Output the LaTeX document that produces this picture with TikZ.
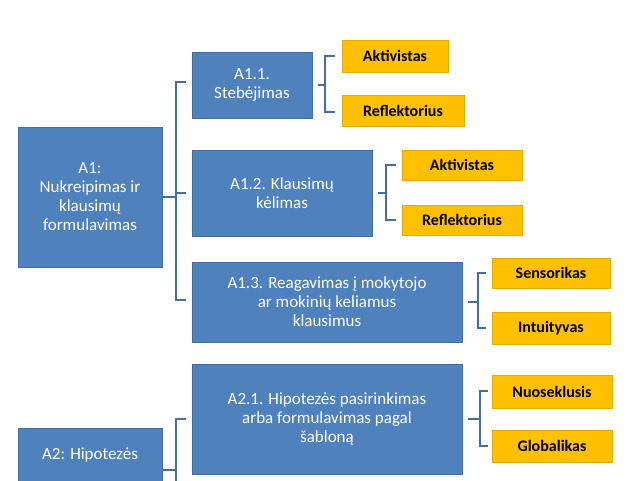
\documentclass[tikz,border=0pt]{standalone}
\usepackage{fontspec}
\setmainfont{Carlito}
\begin{document}
\begin{tikzpicture}[x=1pt,y=-1pt,
  bbox/.style={fill=blue!35!black!0,fill={rgb,255:red,79;green,129;blue,189},draw={rgb,255:red,65;green,110;blue,165},line width=0.6pt,text=white,font=\fontsize{17}{19}\selectfont,align=center,inner sep=0pt},
  ybox/.style={fill={rgb,255:red,255;green,192;blue,0},draw={rgb,255:red,230;green,170;blue,0},line width=0.5pt,text=black,font=\bfseries\fontsize{16}{18}\selectfont,inner sep=0pt},
  br/.style={draw={rgb,255:red,65;green,110;blue,165},line width=2.6pt}]
\useasboundingbox (0,0) rectangle (626,480);
\begin{scope}
\clip (0,0) rectangle (626,480);
\node[bbox,minimum width=144pt,minimum height=140pt] (a1) at (90,197) {A1:\\Nukreipimas ir\\klausimų\\formulavimas};
\node[bbox,minimum width=144pt,minimum height=70pt,anchor=north,text depth=0pt] (a2) at (90,428) {A2: Hipotezės\\\phantom{x}};
\node[bbox,minimum width=120pt,minimum height=66pt] (a11) at (252,85) {A1.1.\\Stebėjimas};
\node[bbox,minimum width=180pt,minimum height=86pt] (a12) at (282,193) {A1.2. Klausimų\\kėlimas};
\node[bbox,minimum width=270pt,minimum height=80pt] (a13) at (327,302) {A1.3. Reagavimas į mokytojo\\ar mokinių keliamus\\klausimus};
\node[bbox,minimum width=270pt,minimum height=110pt] (a21) at (327,419) {A2.1. Hipotezės pasirinkimas\\arba formulavimas pagal\\šabloną};
\node[ybox,minimum width=106pt,minimum height=32pt] (y1) at (395,56) {Aktivistas};
\node[ybox,minimum width=122pt,minimum height=31pt] (y2) at (403,110.5) {Reflektorius};
\node[ybox,minimum width=120pt,minimum height=30pt] (y3) at (462,165) {Aktivistas};
\node[ybox,minimum width=120pt,minimum height=30pt] (y4) at (462,220) {Reflektorius};
\node[ybox,minimum width=118pt,minimum height=30pt] (y5) at (551,273) {Sensorikas};
\node[ybox,minimum width=118pt,minimum height=32pt] (y6) at (551,328) {Intuityvas};
\node[ybox,minimum width=120pt,minimum height=33pt] (y7) at (552,391.5) {Nuoseklusis};
\node[ybox,minimum width=120pt,minimum height=32pt] (y8) at (552,446) {Globalikas};
% A1 bracket
\coordinate (b1) at (176,197);
\draw[br] (a1.east) -- (b1);
\draw[br] (186,82) -- (176,82) -- (176,300) -- (186,300);
\draw[br] (176,193) -- (186,193);
% A2 bracket
\draw[br] (a2.east |- 470,470) -- (176,470);
\draw[br] (186,419) -- (176,419) -- (176,490);
% yellow braces
\draw[br] (a11.east) ++(6,0) -- (325,85);
\draw[br] (335,56) -- (325,56) -- (325,112) -- (335,112);
\draw[br] (a12.east) ++(6,0) -- (386,193);
\draw[br] (396,165) -- (386,165) -- (386,220) -- (396,220);
\draw[br] (a13.east) ++(6,0) -- (478,302);
\draw[br] (486,273) -- (478,273) -- (478,328) -- (486,328);
\draw[br] (a21.east) ++(6,0) -- (480,419);
\draw[br] (488,391) -- (480,391) -- (480,446) -- (488,446);
\end{scope}
\end{tikzpicture}
\end{document}
